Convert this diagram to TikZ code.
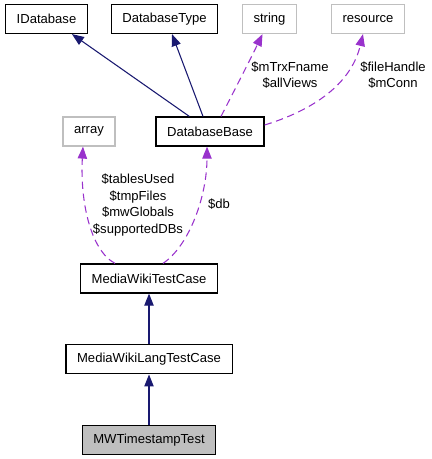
\documentclass[tikz,border=0pt]{standalone}
\usepackage{fontspec}
\setmainfont{Liberation Sans}
\usetikzlibrary{arrows.meta,positioning,calc}
\definecolor{inhblue}{RGB}{25,25,112}
\definecolor{usepurple}{RGB}{153,50,204}
\definecolor{extgray}{RGB}{191,191,191}
\tikzset{
  cls/.style={draw=black, line width=0.9pt, fill=white, inner xsep=8.4pt, inner ysep=0pt,
              minimum height=21.75pt, font=\fontsize{9.8}{12}\selectfont},
  ext/.style={cls, draw=extgray},
  cur/.style={cls, fill=extgray},
  inh/.style={-{Triangle[length=9pt,width=7pt]}, inhblue, line width=0.8pt},
  use/.style={-{Triangle[length=9pt,width=7pt]}, usepurple, line width=0.8pt,
              dash pattern=on 5.5pt off 3.5pt},
  lbl/.style={font=\fontsize{9.8}{12.5}\selectfont, align=center, inner sep=0pt},
}

\begin{document}
\begin{tikzpicture}[x=0.75pt, y=-0.75pt]
    \useasboundingbox (0,0) rectangle (431,459);
    % top row
    \node[cls] (idb) at (46.5,19) {IDatabase};
    \node[cls] (dbtype) at (164.5,19) {DatabaseType};
    \node[ext] (str) at (269.5,19) {string};
    \node[ext] (res) at (368,19) {resource};
    % middle
    \node[ext] (arr) at (89,131.5) {array};
    \node[cls] (dbbase) at (210,131.5) {DatabaseBase};
    % class chain
    \node[cls] (mwtc) at (149,278.5) {MediaWikiTestCase};
    \node[cls, below=38pt of mwtc] (lang) {MediaWikiLangTestCase};
    \node[cur, below=38pt of lang] (ts) {MWTimestampTest};
    % inheritance
    \draw[inh] ($(dbbase.north west)+(34,0)$) -- ($(idb.south west)+(67,0)$);
    \draw[inh] ($(dbbase.north)+(-7,0)$) -- ($(dbtype.south)+(7.5,0)$);
    \draw[inh] (lang) -- (mwtc);
    \draw[inh] (ts) -- (lang);
    % usage
    \draw[use] ($(dbbase.north)+(11,0)$) .. controls (232,95) and (250,60) .. ($(str.south)+(-7,0)$);
    \draw[use] ($(dbbase.east)+(0,-6.5)$) .. controls (320,108) and (352,80) .. ($(res.south)+(-5,0)$);
    \draw[use] ($(mwtc.north)+(-34,0)$) .. controls (90,250) and (80,200) .. ($(arr.south)+(-6,0)$);
    \draw[use] ($(mwtc.north)+(14,0)$) .. controls (190,245) and (207,195) .. ($(dbbase.south)+(-3,0)$);
    \node[lbl] (lstr) at (290,75) {\$mTrxFname\\\$allViews};
    \node[lbl] (lres) at (393,75) {\$fileHandle\\\$mConn};
    \node[lbl] (larr) at (138,205) {\$tablesUsed\\\$tmpFiles\\\$mwGlobals\\\$supportedDBs};
    \node[lbl] (ldb) at (219,204) {\$db};
  \end{tikzpicture}
\end{document}
